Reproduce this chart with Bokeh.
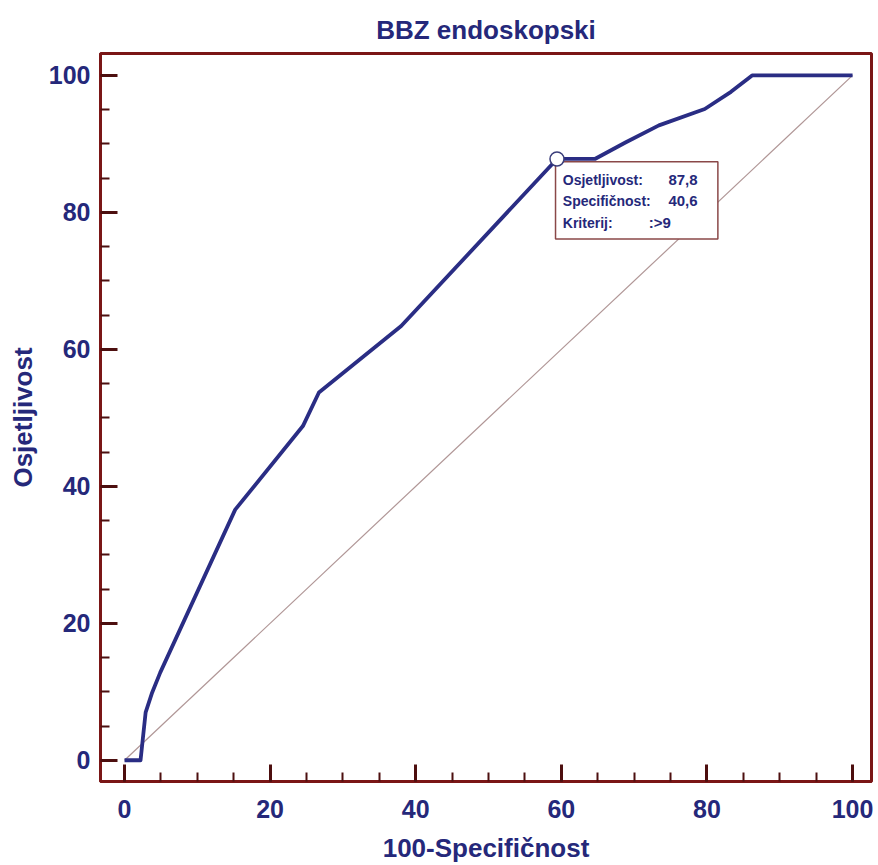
from bokeh.plotting import figure
from bokeh.models import Range1d, SingleIntervalTicker, BoxAnnotation, ColumnDataSource
from bokeh.embed import file_html
from bokeh.resources import INLINE
from bokeh.core.properties import value

# ROC curve (100-Specificity, Sensitivity)
fpr = [0, 2.2, 2.9, 3.8, 4.9, 15.2, 24.5, 26.7, 38.0, 59.4, 64.6, 68.8, 73.4, 79.7, 83.3, 86.2, 100]
tpr = [0, 0, 7.0, 9.9, 12.8, 36.6, 48.8, 53.7, 63.4, 87.8, 87.8, 90.2, 92.7, 95.1, 97.6, 100, 100]
diag_x = [0, 100]
diag_y = [0, 100]

# optimal criterion point
crit_x = [59.4]
crit_y = [87.8]
info_labels = ["Osjetljivost:", "Specifičnost:", "Kriterij:"]
info_values = ["87,8", "40,6", ":>9"]

title_text = "BBZ endoskopski"
x_label = "100-Specifičnost"
y_label = "Osjetljivost"

NAVY = "#2a2d84"
TEXT = "#25287a"
FRAME = "#7a1616"
TICK = "#4d0f0f"
FONT = "Liberation Sans"

p = figure(width=878, height=865, output_backend="svg", toolbar_location=None,
           x_range=Range1d(-3.3, 102.6), y_range=Range1d(-3.1, 103.2),
           min_border_left=100, min_border_right=7, min_border_top=53, min_border_bottom=83,
           background_fill_color="white", border_fill_color="white")

p.title.text = title_text
p.title.align = "center"
p.title.text_font = FONT
p.title.text_font_size = "26px"
p.title.text_font_style = "bold"
p.title.text_color = TEXT
p.title.standoff = 17

p.xgrid.visible = False
p.ygrid.visible = False
p.outline_line_color = FRAME
p.outline_line_width = 3
p.outline_line_alpha = 1

for ax in (p.xaxis[0], p.yaxis[0]):
    ax.ticker = SingleIntervalTicker(interval=20, num_minor_ticks=4)
    ax.axis_line_color = FRAME
    ax.axis_line_width = 3
    ax.major_tick_in = 17
    ax.major_tick_out = 0
    ax.minor_tick_in = 9
    ax.minor_tick_out = 0
    ax.major_tick_line_color = TICK
    ax.major_tick_line_width = 3
    ax.minor_tick_line_color = TICK
    ax.minor_tick_line_width = 2
    ax.major_label_text_font = FONT
    ax.major_label_text_font_size = "25px"
    ax.major_label_text_font_style = "bold"
    ax.major_label_text_color = TEXT
    ax.axis_label_text_font = FONT
    ax.axis_label_text_font_size = "26px"
    ax.axis_label_text_font_style = "bold"
    ax.axis_label_text_color = TEXT

p.xaxis.axis_label = x_label
p.yaxis.axis_label = y_label
p.xaxis.major_label_standoff = 18
p.xaxis.axis_label_standoff = 12
p.yaxis.major_label_standoff = 10
p.yaxis.axis_label_standoff = 8

p.line(diag_x, diag_y, line_color="#b09696", line_width=1.2)
p.line(fpr, tpr, line_color=NAVY, line_width=3.8, line_join="round")

box = BoxAnnotation(left=59.2, right=81.5, bottom=76.1, top=87.4,
                    fill_color="white", fill_alpha=1.0,
                    line_color="#8a4848", line_width=1.5, line_alpha=1.0)
p.add_layout(box)

r = p.scatter(crit_x, crit_y, size=14, marker="circle", fill_color="white",
              line_color="#3a3d7a", line_width=1.5)
r.level = "overlay"

src = ColumnDataSource(dict(
    lx=[60.2, 60.2, 60.2],
    vx=[74.7, 74.7, 72.0],
    y=[84.8, 81.6, 78.5],
    lab=info_labels,
    val=info_values,
))
t1 = p.text(x="lx", y="y", text="lab", source=src, text_font=value(FONT),
            text_font_size="14px", text_font_style="bold", text_color=TEXT,
            text_baseline="middle", text_align="left")
t1.level = "overlay"
t2 = p.text(x="vx", y="y", text="val", source=src, text_font=value(FONT),
            text_font_size="15px", text_font_style="bold", text_color=TEXT,
            text_baseline="middle", text_align="left")
t2.level = "overlay"

open("out.html", "w").write(file_html(p, INLINE))
